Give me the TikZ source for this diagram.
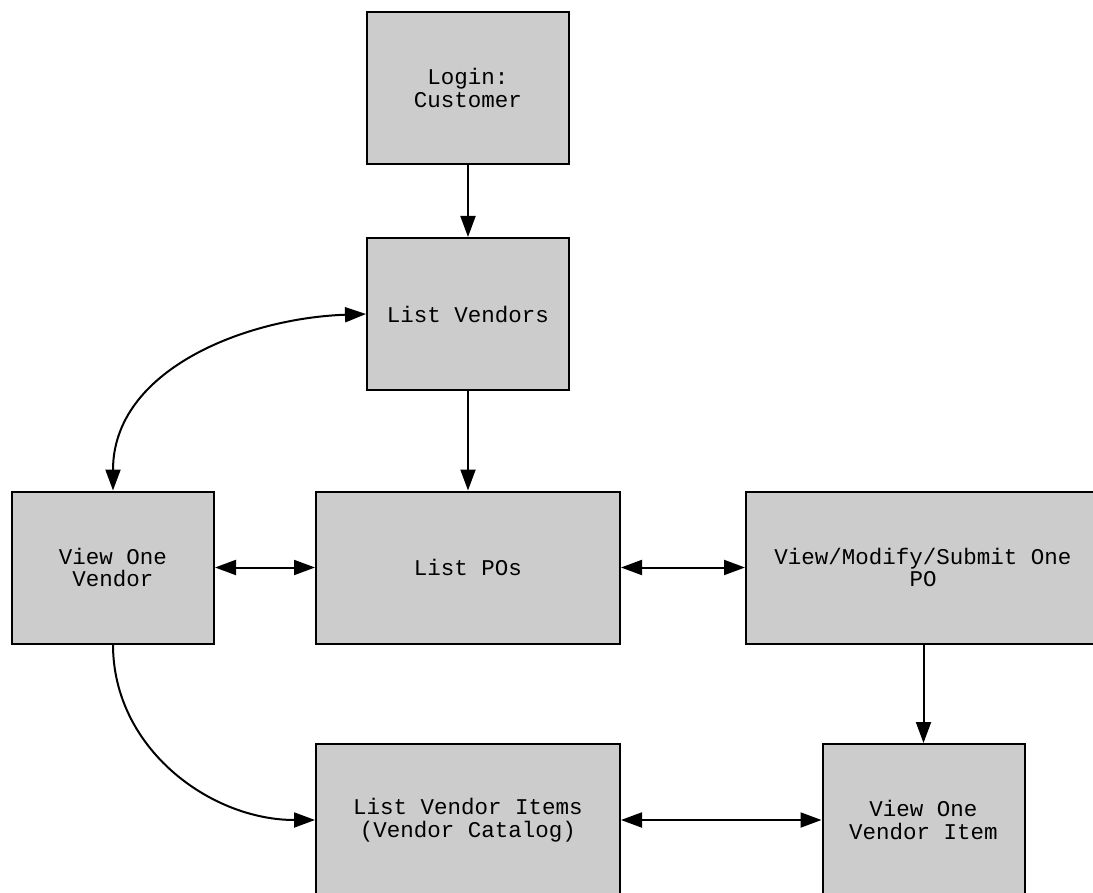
\documentclass[tikz,border=0pt]{standalone}
\usepackage{fontspec}
\newfontfamily\boxfont{Liberation Mono}
\usetikzlibrary{arrows.meta}
\definecolor{boxgray}{HTML}{CCCCCC}
\tikzset{
  screen/.style={draw=black, line width=2pt, fill=boxgray, inner sep=0pt,
    minimum width=202pt, minimum height=152pt, align=center,
    font=\boxfont\fontsize{22.5}{22.5}\selectfont},
  widescreen/.style={screen, minimum width=304pt},
  flow/.style={line width=2pt, -{Triangle[length=21pt,width=15pt]}},
  twoway/.style={line width=2pt, {Triangle[length=21pt,width=15pt]}-{Triangle[length=21pt,width=15pt]}}
}
\begin{document}
\begin{tikzpicture}[x=1pt, y=-1pt]
\clip (0,0) rectangle (1093,893);
\node[screen] (login) at (468,88) {Login:\\Customer};
\node[screen] (vendors) at (468,314) {List Vendors};
\node[screen] (vendor) at (113,567.5) {View One\\Vendor};
\node[widescreen] (pos) at (468,567.5) {List POs};
\node[screen, minimum width=354pt] (po) at (923,567.5) {View/Modify/Submit One\\PO};
\node[widescreen] (items) at (468,820) {List Vendor Items\\(Vendor Catalog)};
\node[screen] (item) at (923.5,820) {View One\\Vendor Item};
\draw[flow] (login) -- (vendors);
\draw[flow] (vendors) -- (pos);
\draw[twoway] (vendor) -- (pos);
\draw[twoway] (pos) -- (po);
\draw[flow] (po.south -| item.north) -- (item.north);
\draw[twoway] (items) -- (item);
\draw[twoway] (vendors.west) to[out=182, in=90] (vendor.north);
\draw[flow] (vendor.south) to[out=-90, in=180] (items.west);
\end{tikzpicture}
\end{document}
